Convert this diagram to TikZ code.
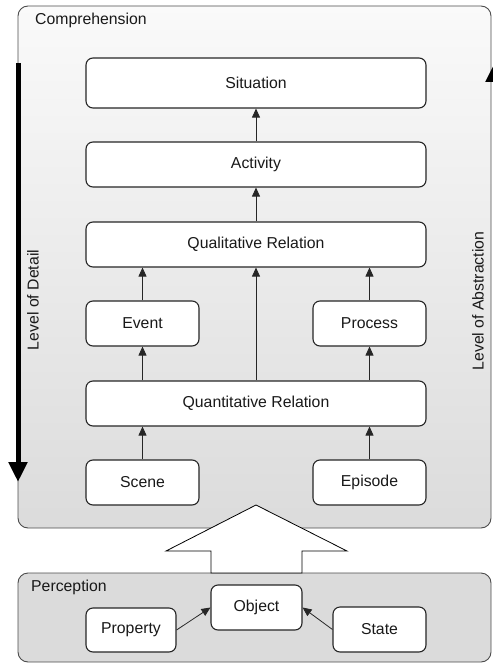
\documentclass[tikz,border=0pt]{standalone}
\usepackage{fontspec}
\setmainfont{Liberation Sans}
\usetikzlibrary{arrows.meta}
\begin{document}
\begin{tikzpicture}[x=1pt,y=-1pt,
  every node/.style={font=\fontsize{15.8}{18}\selectfont, text=black!90},
  container/.style={draw=black!70, line width=0.9pt, rounded corners=10pt, inner sep=0pt},
  box/.style={draw=black!85, line width=1.1pt, rounded corners=7pt, fill=white,
    minimum width=340pt, minimum height=45pt, inner sep=0pt},
  small/.style={box, minimum width=113pt},
  flow/.style={draw=black!85, line width=0.8pt, -{Triangle[width=8pt,length=9pt]}},
  level/.style={draw=black, line width=5pt, -{Triangle[width=18pt,length=20pt]}}
]
\useasboundingbox (0,0) rectangle (492,663);

% containers
\node[container, top color=black!2, bottom color=black!14,
  minimum width=473pt, minimum height=522pt] (comp) at (254.5,267) {};
\node[container, fill=black!14,
  minimum width=473pt, minimum height=89pt] (perc) at (254.5,617.5) {};
\node[anchor=west, inner sep=0pt] (complabel) at (35,20) {Comprehension};
\node[anchor=west, inner sep=0pt] (perclabel) at (31,587) {Perception};

% hollow arrow from perception up to comprehension
\draw[draw=black, line width=0.8pt, fill=white]
  (256,505) -- (347,551) -- (302,551) -- (302,573) -- (211,573)
  -- (211,551) -- (166,551) -- cycle;

% comprehension hierarchy
\node[box, minimum height=50pt] (sit) at (256,83) {Situation};
\node[box] (act) at (256,164.5) {Activity};
\node[box] (qual) at (256,244.5) {Qualitative Relation};
\node[small] (event) at (142.5,323.5) {Event};
\node[small] (proc) at (369.5,323.5) {Process};
\node[box] (quant) at (256,403.5) {Quantitative Relation};
\node[small] (scene) at (142.5,482.5) {Scene};
\node[small] (epi) at (369.5,482.5) {Episode};

\draw[flow] (act) -- (sit);
\draw[flow] (qual) -- (act);
\draw[flow] (event) -- (event |- qual.south);
\draw[flow] (proc) -- (proc |- qual.south);
\draw[flow] (quant) -- (qual);
\draw[flow] (event |- quant.north) -- (event);
\draw[flow] (proc |- quant.north) -- (proc);
\draw[flow] (scene) -- (scene |- quant.south);
\draw[flow] (epi) -- (epi |- quant.south);

% perception
\node[box, minimum width=91pt] (obj) at (256.5,607.5) {Object};
\node[box, minimum width=90pt, minimum height=44pt] (prop) at (131,630) {Property};
\node[box, minimum width=93pt] (state) at (379.5,629.5) {State};
\draw[flow] (prop.east) -- (obj.west);
\draw[flow] (state.west) -- (obj.east);

% level axes
\coordinate (detailtop) at (18,63);
\coordinate (detailbot) at (18,482);
\coordinate (abstrbot) at (495,482);
\coordinate (abstrtop) at (495,62);
\draw[level] (detailtop) -- (detailbot);
\draw[level] (abstrbot) -- (abstrtop);
\node[rotate=90] (detail) at (33,300) {Level of Detail};
\node[rotate=90] (abstr) at (478,301) {Level of Abstraction};
\end{tikzpicture}
\end{document}
